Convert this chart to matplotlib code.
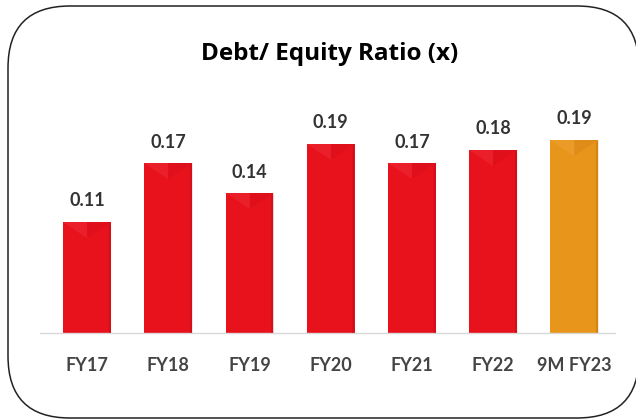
import matplotlib
matplotlib.use("Agg")
import matplotlib.pyplot as plt
from matplotlib.patches import FancyBboxPatch, Polygon

# data
years = ["FY17", "FY18", "FY19", "FY20", "FY21", "FY22", "9M FY23"]
ratios = [0.111, 0.17, 0.14, 0.189, 0.17, 0.183, 0.193]
labels = ["0.11", "0.17", "0.14", "0.19", "0.17", "0.18", "0.19"]
colors = ["#E8121D"] * 6 + ["#E8951C"]
dark = ["#B80C16"] * 6 + ["#B86E0E"]
light = ["#F0303A"] * 6 + ["#F0A437"]

fig = plt.figure(figsize=(6.36, 4.2), dpi=100)

# background frame (pixel coords)
bg = fig.add_axes([0, 0, 1, 1])
bg.set_xlim(0, 636)
bg.set_ylim(0, 420)
bg.axis("off")
frame = FancyBboxPatch((8, 2), 631, 412,
                       boxstyle="round,pad=0,rounding_size=62",
                       facecolor="white", edgecolor="#222222", linewidth=1.1)
bg.add_patch(frame)
bg.text(330, 366, "Debt/ Equity Ratio (x)", ha="center", va="center",
        fontsize=17.5, fontweight="bold", family="Open Sans", color="black")

ax = fig.add_axes([40 / 636, 87 / 420, 575 / 636, 250 / 420])
ax.set_xlim(-0.58, 6.5)
ax.set_ylim(0, 0.25)
ax.patch.set_alpha(0)

w = 0.59
x = list(range(len(years)))
ax.bar(x, ratios, width=w, color=colors, edgecolor="none", zorder=2)

# subtle bevel look on each bar
for i, v in enumerate(ratios):
    l, r = i - w / 2, i + w / 2
    d = 0.016
    ax.add_patch(Polygon([(l, v), (i, v), (i, v - d)], closed=True,
                         facecolor=light[i], edgecolor="none", zorder=3, alpha=0.45))
    ax.add_patch(Polygon([(i, v), (r, v), (i, v - d)], closed=True,
                         facecolor=dark[i], edgecolor="none", zorder=3, alpha=0.18))
    ax.add_patch(Polygon([(r - 0.03, v - 0.002), (r, v), (r, 0), (r - 0.03, 0)],
                         closed=True, facecolor=dark[i], edgecolor="none",
                         zorder=3, alpha=0.4))
    ax.text(i, v + 0.021, labels[i], ha="center", va="center", fontsize=13,
            family="Lato", fontweight="bold", color="#333333")

for s in ["top", "right", "left"]:
    ax.spines[s].set_visible(False)
ax.spines["bottom"].set_color("#D9D9D9")
ax.spines["bottom"].set_linewidth(1)
ax.set_yticks([])
ax.set_xticks(x)
ax.set_xticklabels(years, fontsize=13, family="Lato", fontweight="bold",
                   color="#444444")
ax.tick_params(axis="x", length=0, pad=17)

fig.savefig("out.png", dpi=100)
